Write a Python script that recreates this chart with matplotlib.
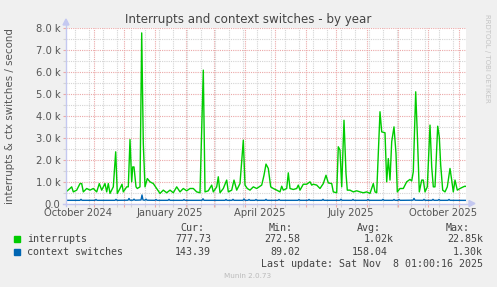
import datetime as dt
import matplotlib
matplotlib.use("Agg")
import matplotlib.pyplot as plt
import matplotlib.dates as mdates
from matplotlib.lines import Line2D
from matplotlib.patches import Rectangle, Polygon

# ---------------- data ----------------
start = dt.datetime(2024, 10, 4, 1, 0, 16)
end = dt.datetime(2025, 11, 8, 1, 0, 16)

irq_days = [0, 4, 5.7, 7.3, 10.7, 14, 15.7, 17.3, 20.7, 24, 27.3, 30.7, 33.3, 35.7, 39, 40.7,
            42.3, 44, 47.3, 49.7, 51.3, 54, 56, 57.3, 60.7, 62.3, 64, 65.7, 66.7, 68, 70, 71.3,
            74, 75.7, 77.3, 79, 81.3, 84, 87.3, 90.7, 94, 97.3, 100.7, 104, 107.3, 110.7, 114,
            117.3, 120.7, 124, 127.3, 130.7, 134, 137.3, 139, 142.3, 145.7, 147.3, 150.7, 152.3,
            154, 157.3, 160.7, 162.3, 165.7, 168, 170.7, 174, 177.3, 179, 181.3, 184, 187.3,
            190.7, 195.7, 198, 200, 202.3, 204.7, 207.3, 210.7, 214, 215.7, 217.3, 220.7, 222.3,
            224, 227.3, 230.7, 232.3, 234, 237.3, 240.7, 244, 245.7, 247.3, 250.7, 254, 257.3,
            260, 262.3, 265.7, 267.3, 270.7, 272.3, 274, 275.7, 278, 280, 281.3, 284, 287.3,
            290.7, 294, 297.3, 300.7, 304, 307.3, 309, 310.7, 314, 315.7, 319, 320.7, 322.3,
            324, 325.7, 328, 330, 331.3, 334, 337.3, 340.7, 344, 345.7, 347.3, 349.7, 351.3,
            353.3, 355.7, 357.3, 359, 361.3, 364, 365.7, 367.3, 369, 371.7, 373.3, 374.7, 376.7,
            379, 381.3, 384, 385.7, 387.3, 389, 391.3, 394, 397.3, 399, 400]
irq_vals = [530, 685, 760, 530, 610, 910, 910, 530, 685, 610, 685, 530, 910, 610, 910, 530,
            910, 460, 760, 2360, 460, 685, 880, 530, 760, 760, 2920, 990, 1670, 1670, 760, 685,
            760, 7790, 2740, 760, 1140, 990, 910, 685, 460, 610, 490, 610, 490, 760, 530,
            685, 580, 685, 685, 530, 490, 6090, 530, 580, 840, 530, 760, 1220,
            490, 685, 1070, 530, 610, 1070, 610, 910, 2890, 840, 685, 610, 760,
            685, 840, 1290, 1800, 1600, 760, 685, 610, 530, 790, 610, 685, 1400,
            685, 640, 685, 840, 610, 880, 880, 990, 840, 880, 840, 685, 910,
            1290, 940, 910, 530, 490, 2590, 2440, 760, 3800, 1370, 610, 610, 530,
            580, 530, 490, 530, 460, 910, 530, 490, 4190, 3270, 3230, 990, 2050,
            1070, 2820, 3500, 2280, 530, 685, 685, 990, 1100, 1030, 1450, 5100, 3200,
            530, 1070, 1070, 530, 760, 3580, 1670, 760, 760, 3530, 3040, 1750, 610,
            530, 760, 1600, 1070, 530, 1070, 610, 685, 760, 790, 778]

ctx_days = [0, 14, 15, 16, 29, 30, 31, 49, 50, 51, 62, 63, 64, 67, 68, 69, 75, 76, 77, 79, 80,
            81, 89, 90, 91, 102, 103, 104, 117, 118, 119, 136, 137, 138, 159, 160, 161, 166,
            167, 168, 177, 178, 179, 182, 183, 184, 189, 190, 191, 199, 200, 201, 212, 213,
            214, 232, 233, 234, 242, 243, 244, 256, 257, 258, 274, 275, 276, 286, 287, 288,
            301, 302, 303, 316, 317, 318, 327, 328, 329, 332, 333, 334, 347, 348, 349, 357,
            358, 359, 366, 367, 368, 372, 373, 374, 382, 383, 384, 400]
ctx_vals = [145, 145, 190, 145, 145, 185, 145, 145, 190, 145, 150, 230, 150, 150, 200, 150, 160,
            390, 160, 150, 200, 150, 145, 185, 145, 145, 190, 145, 145, 185, 145, 145, 215,
            145, 145, 185, 145, 145, 190, 145, 145, 210, 145, 145, 185, 145, 145, 185, 145,
            145, 190, 145, 145, 185, 145, 145, 185, 145, 145, 185, 145, 145, 190, 145, 145,
            195, 145, 145, 185, 145, 145, 185, 145, 145, 190, 145, 145, 185, 145, 145, 185,
            145, 150, 235, 150, 145, 190, 145, 145, 190, 145, 145, 185, 145, 145, 185, 145, 143]

series_names = ["interrupts", "context switches"]
series_colors = ["#00CC00", "#0066B3"]
cur_vals = ["777.73", "143.39"]
min_vals = ["272.58", "89.02"]
avg_vals = ["1.02k", "158.04"]
max_vals = ["22.85k", "1.30k"]

y_ticks = [0, 1000, 2000, 3000, 4000, 5000, 6000, 7000, 8000]
y_labels = ["0.0", "1.0 k", "2.0 k", "3.0 k", "4.0 k", "5.0 k", "6.0 k", "7.0 k", "8.0 k"]
x_label_dates = [dt.datetime(2024, 10, 16), dt.datetime(2025, 1, 16), dt.datetime(2025, 4, 16),
                 dt.datetime(2025, 7, 16), dt.datetime(2025, 10, 16)]
x_labels = ["October 2024", "January 2025", "April 2025", "July 2025", "October 2025"]

title = "Interrupts and context switches - by year"
ylabel = "interrupts & ctx switches / second"
last_update = "Last update: Sat Nov  8 01:00:16 2025"

# ---------------- figure ----------------
W, H = 497, 287
fig = plt.figure(figsize=(W / 100, H / 100), dpi=100, facecolor="#F0F0F0")

def fx(px):
    return px / W

def fy(py):
    return 1 - py / H

L, R, T, B = 66, 466, 28.3, 203.5
ax = fig.add_axes([fx(L), fy(B), (R - L) / W, (B - T) / H])
ax.set_facecolor("white")
for s in ax.spines.values():
    s.set_visible(False)

irq_t = [start + dt.timedelta(days=d) for d in irq_days]
ctx_t = [start + dt.timedelta(days=d) for d in ctx_days]
ax.plot(irq_t, irq_vals, color=series_colors[0], lw=1.0, zorder=3)
ax.plot(ctx_t, ctx_vals, color=series_colors[1], lw=1.0, zorder=3)

ax.set_xlim(start, end)
ax.set_ylim(0, 8000)

# grids
ax.set_yticks(y_ticks)
ax.set_yticklabels(y_labels)
ax.set_yticks(range(500, 8000, 1000), minor=True)
ax.xaxis.set_major_locator(mdates.MonthLocator())
ax.xaxis.set_minor_locator(mdates.WeekdayLocator(byweekday=mdates.SU, interval=2))
ax.xaxis.set_major_formatter(plt.NullFormatter())
# align biweekly lines to 2025-03-16
minor_ticks = []
d = dt.datetime(2025, 3, 16)
while d > start:
    d -= dt.timedelta(days=14)
d += dt.timedelta(days=14)
while d < end:
    minor_ticks.append(d)
    d += dt.timedelta(days=14)
ax.set_xticks(minor_ticks, minor=True)

red = "#EBA8A8"
grey = "#D4D4D4"
ax.grid(which="major", color=red, linestyle=(0, (1, 1)), lw=0.8, zorder=1)
ax.grid(which="minor", color=grey, linestyle=(0, (1, 1)), lw=0.8, zorder=0)
ax.tick_params(which="major", length=2, width=0.8, color=red, labelsize=7.2,
               labelcolor="#555555", pad=2)
ax.tick_params(which="minor", length=2, width=0.8, color=grey)
ax.tick_params(axis="x", which="both", labelbottom=False)

for dte, lab in zip(x_label_dates, x_labels):
    ax.text(dte, -0.025, lab, transform=ax.get_xaxis_transform(), ha="center", va="top",
            fontsize=7.2, color="#555555")

# axis lines with arrows
axc = "#C4C8F0"
fig.add_artist(Line2D([fx(L), fx(L)], [fy(B + 2), fy(22)], color=axc, lw=1))
fig.add_artist(Line2D([fx(L - 3), fx(471)], [fy(B), fy(B)], color=axc, lw=1))
fig.add_artist(Polygon([[fx(L - 3), fy(25)], [fx(L + 3), fy(25)], [fx(L), fy(19)]],
                       closed=True, color=axc))
fig.add_artist(Polygon([[fx(469), fy(B - 3)], [fx(469), fy(B + 3)], [fx(475), fy(B)]],
                       closed=True, color=axc))

# texts
fig.text(fx(248), fy(20), title, ha="center", va="center", fontsize=8.6, color="#444444")
fig.text(fx(10), fy(116), ylabel, ha="center", va="center", rotation=90, fontsize=7.4,
         color="#555555")
fig.text(fx(487), fy(58), "RRDTOOL / TOBI OETIKER", ha="center", va="center", rotation=270,
         fontsize=5.0, color="#C4C4C4")

mono = "DejaVu Sans Mono"
fs = 7.2
tc = "#444444"
for txt, xr in zip(["Cur:", "Min:", "Avg:", "Max:"], [204, 293, 381, 470]):
    fig.text(fx(xr), fy(228), txt, ha="right", va="center", family=mono, fontsize=fs, color=tc)

rows_y = [239, 252]
avg_right = [394, 388]
min_right = [300, 300]
for i in range(2):
    y = rows_y[i]
    fig.add_artist(Rectangle((fx(14), fy(y + 3)), 6 / W, 6 / H, color=series_colors[i]))
    fig.text(fx(27), fy(y), series_names[i], ha="left", va="center", family=mono,
             fontsize=fs, color=tc)
    fig.text(fx(211), fy(y), cur_vals[i], ha="right", va="center", family=mono, fontsize=fs, color=tc)
    fig.text(fx(min_right[i]), fy(y), min_vals[i], ha="right", va="center", family=mono, fontsize=fs, color=tc)
    fig.text(fx(avg_right[i]), fy(y), avg_vals[i], ha="right", va="center", family=mono, fontsize=fs, color=tc)
    fig.text(fx(483), fy(y), max_vals[i], ha="right", va="center", family=mono, fontsize=fs, color=tc)

fig.text(fx(483), fy(264), last_update, ha="right", va="center", family=mono, fontsize=fs, color=tc)
fig.text(fx(248), fy(276), "Munin 2.0.73", ha="center", va="center", fontsize=5.2, color="#BBBBBB")

fig.savefig("out.png", dpi=100, facecolor=fig.get_facecolor())
